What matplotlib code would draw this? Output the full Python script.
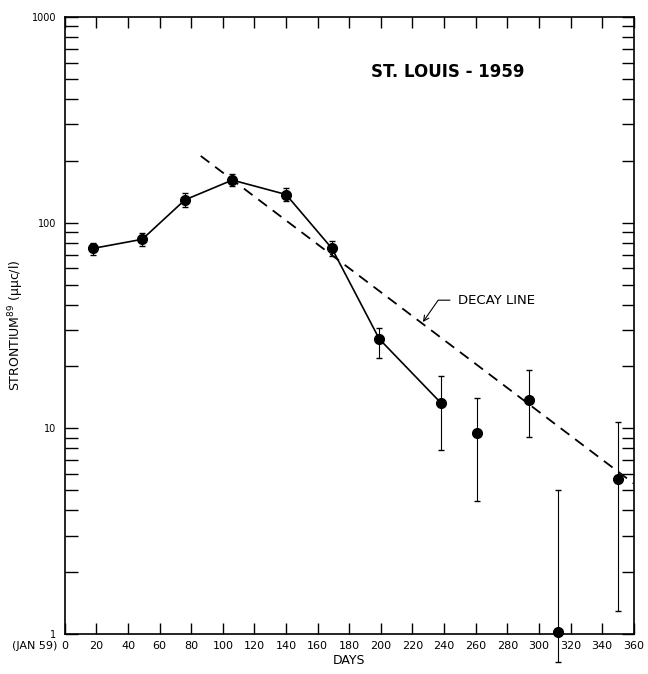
import numpy as np
import matplotlib.pyplot as plt
from matplotlib.ticker import FixedLocator, LogLocator, NullFormatter

# connected measurements
days_line = [18, 49, 76, 106, 140, 169, 199, 238]
sr_line = [75, 83, 129, 161, 137, 75, 27.2, 13.3]
err_lo_line = [5, 6, 10, 11, 10, 6, 5.2, 5.4]
err_hi_line = [5, 6, 10, 11, 10, 6, 3.5, 4.7]

# isolated measurements
days_pts = [261, 293.5, 312, 350]
sr_pts = [9.5, 13.8, 1.03, 5.65]
err_lo_pts = [5.05, 4.7, 0.3, 4.36]
err_hi_pts = [4.5, 5.4, 3.97, 5.05]

# decay line end points
decay_days = [86, 360]
decay_sr = [211, 5.4]

xticks = list(range(0, 361, 20))

fig = plt.figure(figsize=(6.48, 6.74), dpi=100)
ax = fig.add_axes([0.100, 0.059, 0.878, 0.916])

ax.errorbar(days_line, sr_line, yerr=[err_lo_line, err_hi_line], fmt='o-',
            color='black', ms=7, lw=1.2, elinewidth=0.8, capsize=2)
ax.errorbar(days_pts, sr_pts, yerr=[err_lo_pts, err_hi_pts], fmt='o',
            color='black', ms=7, elinewidth=0.8, capsize=2, clip_on=False)
ax.plot(decay_days, decay_sr, '--', color='black', lw=1.3, dashes=(6, 4))

ax.set_yscale('log')
ax.set_xlim(0, 360)
ax.set_ylim(1, 1000)

ax.xaxis.set_major_locator(FixedLocator(xticks))
ax.set_xticklabels([str(t) for t in xticks], fontsize=8)
ax.yaxis.set_major_locator(FixedLocator([1, 10, 100, 1000]))
ax.set_yticklabels(['1', '10', '100', '1000'], fontsize=7)
ax.yaxis.set_minor_locator(LogLocator(base=10, subs=np.arange(2, 10)))
ax.yaxis.set_minor_formatter(NullFormatter())
ax.tick_params(which='both', direction='in', top=True, right=True, width=1)
ax.tick_params(axis='x', length=8, pad=5)
ax.tick_params(axis='y', which='major', length=9, pad=6)
ax.tick_params(axis='y', which='minor', length=9)

ax.annotate('(JAN 59)', xy=(0, 0), xycoords='axes fraction',
            xytext=(-5, -5), textcoords='offset points',
            ha='right', va='top', fontsize=8)

ax.set_xlabel('DAYS', fontsize=9, labelpad=2)
ax.set_ylabel('STRONTIUM$^{89}$ (μμc/l)', fontsize=9, labelpad=4)

ax.text(194, 540, 'ST. LOUIS - 1959', fontsize=12, fontweight='bold',
        va='center')

ax.annotate('DECAY LINE', xy=(226.6, 32.9), xytext=(249, 42),
            fontsize=9.5, va='center',
            arrowprops=dict(arrowstyle='->', color='black', lw=0.8,
                            shrinkA=4, shrinkB=0,
                            connectionstyle='angle,angleA=0,angleB=55,rad=0'))

for s in ax.spines.values():
    s.set_linewidth(1.2)

fig.savefig('out.png', dpi=100)
